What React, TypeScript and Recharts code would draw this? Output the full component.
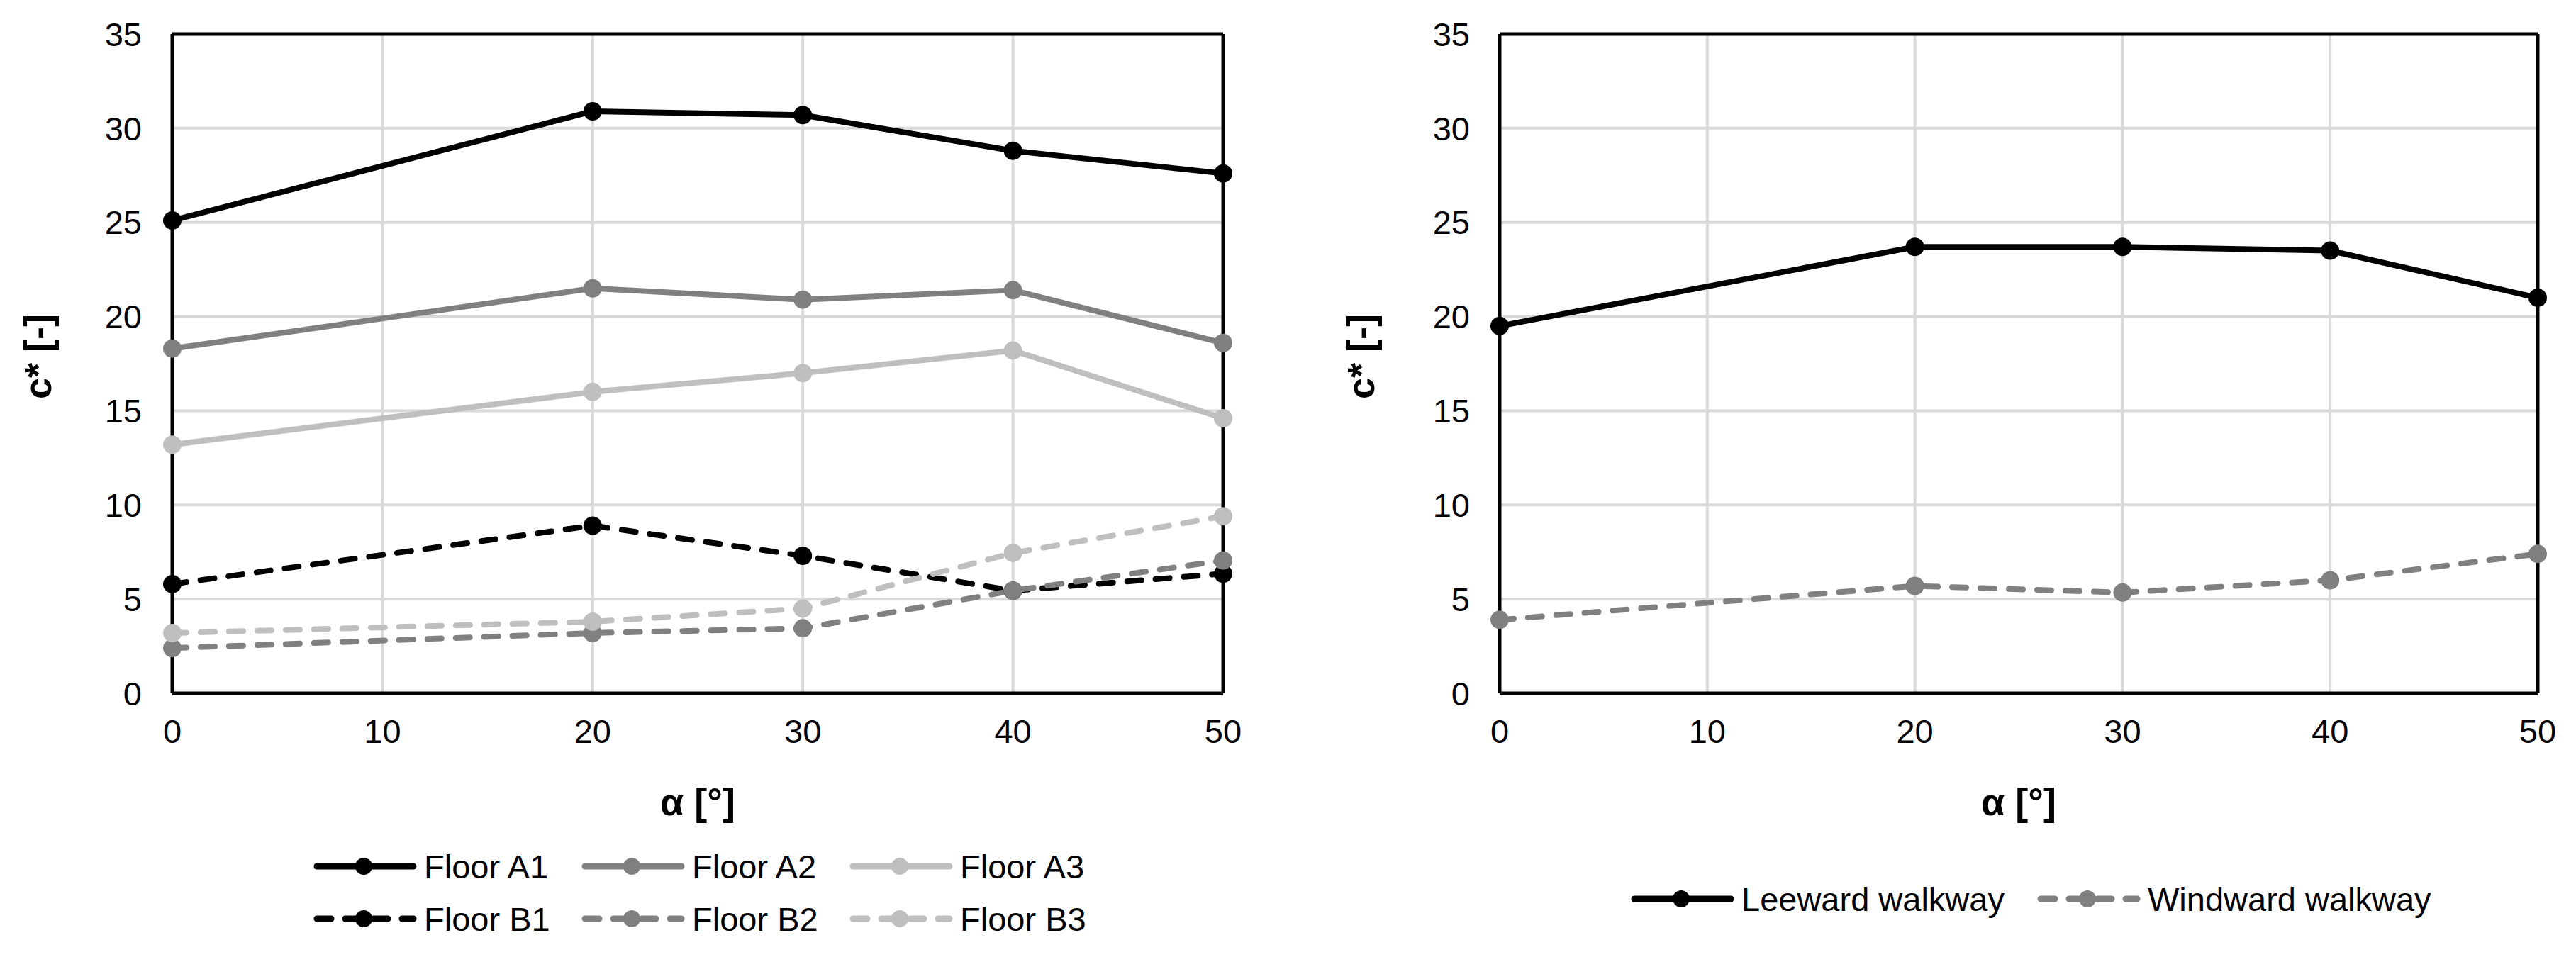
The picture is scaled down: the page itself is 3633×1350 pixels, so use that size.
import React from "react";
import {
  LineChart,
  Line,
  XAxis,
  YAxis,
  CartesianGrid,
  ReferenceLine,
  Legend,
} from "recharts";

// angle of attack [deg] where values were measured
const alphaValues = [0, 20, 30, 40, 50];

// left panel: floors
const floorA1 = [25.1, 30.9, 30.7, 28.8, 27.6];
const floorA2 = [18.3, 21.5, 20.9, 21.4, 18.6];
const floorA3 = [13.2, 16.0, 17.0, 18.2, 14.6];
const floorB1 = [5.8, 8.9, 7.3, 5.45, 6.35];
const floorB2 = [2.4, 3.2, 3.45, 5.45, 7.05];
const floorB3 = [3.2, 3.8, 4.5, 7.45, 9.4];

// right panel: walkways
const leewardWalkway = [19.5, 23.7, 23.7, 23.5, 21.0];
const windwardWalkway = [3.9, 5.7, 5.35, 6.0, 7.4];

const xTicks = [0, 10, 20, 30, 40, 50];
const yTicks = [0, 5, 10, 15, 20, 25, 30, 35];

const BLACK = "#000000";
const DARK = "#808080";
const LIGHT = "#bfbfbf";
const FONT = "'Liberation Sans', Arial, sans-serif";
const DASH = "20 20";

type Series = { key: string; name: string; color: string; dashed: boolean; values: number[] };

const floorSeries: Series[] = [
  { key: "A1", name: "Floor A1", color: BLACK, dashed: false, values: floorA1 },
  { key: "A2", name: "Floor A2", color: DARK, dashed: false, values: floorA2 },
  { key: "A3", name: "Floor A3", color: LIGHT, dashed: false, values: floorA3 },
  { key: "B1", name: "Floor B1", color: BLACK, dashed: true, values: floorB1 },
  { key: "B2", name: "Floor B2", color: DARK, dashed: true, values: floorB2 },
  { key: "B3", name: "Floor B3", color: LIGHT, dashed: true, values: floorB3 },
];

const walkwaySeries: Series[] = [
  { key: "lee", name: "Leeward walkway", color: BLACK, dashed: false, values: leewardWalkway },
  { key: "wind", name: "Windward walkway", color: DARK, dashed: true, values: windwardWalkway },
];

const buildRows = (series: Series[]) =>
  alphaValues.map((alpha, i) => {
    const row: Record<string, number> = { alpha };
    series.forEach((s) => (row[s.key] = s.values[i]));
    return row;
  });

const tickStyle = { fontSize: 47, fill: "#000", fontFamily: FONT };
const axisLineStyle = { stroke: "#000", strokeWidth: 5 };

// legend drawn as svg, columns wrap after `perRow` items
function makeLegend(series: Series[], startX: number, colWidth: number, perRow: number, rowYs: number[], width: number) {
  return () => (
    <svg width={width} height={170}>
      {series.map((s, i) => {
        const x = startX + (i % perRow) * colWidth;
        const y = rowYs[Math.floor(i / perRow)];
        return (
          <g key={s.key}>
            <line
              x1={x + 4}
              y1={y}
              x2={x + 140}
              y2={y}
              stroke={s.color}
              strokeWidth={9}
              strokeLinecap="round"
              strokeDasharray={s.dashed ? DASH : undefined}
            />
            <circle cx={x + 70} cy={y} r={12} fill={s.color} />
            <text x={x + 155} y={y + 17} fontSize={47} fontFamily={FONT} fill="#000">
              {s.name}
            </text>
          </g>
        );
      })}
    </svg>
  );
}

type PanelProps = {
  series: Series[];
  width: number;
  yAxisWidth: number;
  rightMargin: number;
  tickGap: number;
  yTitleX: number;
  legend: () => React.ReactElement;
};

function Panel({ series, width, yAxisWidth, rightMargin, tickGap, yTitleX, legend }: PanelProps) {
  const rows = buildRows(series);
  return (
    <LineChart
      width={width}
      height={1350}
      data={rows}
      margin={{ top: 48, right: rightMargin, bottom: 0, left: 0 }}
    >
      <CartesianGrid stroke="#d9d9d9" strokeWidth={4} />
      <XAxis
        dataKey="alpha"
        type="number"
        domain={[0, 50]}
        ticks={xTicks}
        height={372}
        tickSize={0}
        tickMargin={37}
        tick={tickStyle}
        axisLine={axisLineStyle}
        label={({ viewBox }: any) => (
          <text
            x={viewBox.x + viewBox.width / 2}
            y={viewBox.y + 172}
            textAnchor="middle"
            fontSize={54}
            fontWeight={700}
            fontFamily={FONT}
            fill="#000"
          >
            α [°]
          </text>
        )}
      />
      <YAxis
        type="number"
        domain={[0, 35]}
        ticks={yTicks}
        width={yAxisWidth}
        tickSize={0}
        tickMargin={tickGap}
        tick={tickStyle}
        axisLine={axisLineStyle}
        label={({ viewBox }: any) => {
          const cx = viewBox.x + yTitleX;
          const cy = viewBox.y + viewBox.height / 2 - 10;
          return (
            <text
              x={cx}
              y={cy}
              transform={`rotate(-90, ${cx}, ${cy})`}
              textAnchor="middle"
              fontSize={54}
              fontWeight={700}
              fontFamily={FONT}
              fill="#000"
            >
              c* [-]
            </text>
          );
        }}
      />
      <ReferenceLine y={35} stroke="#000" strokeWidth={5} />
      <ReferenceLine x={50} stroke="#000" strokeWidth={5} />
      {series.map((s) => (
        <Line
          key={s.key}
          dataKey={s.key}
          name={s.name}
          stroke={s.color}
          strokeWidth={8}
          strokeLinejoin="round"
          strokeLinecap="round"
          strokeDasharray={s.dashed ? DASH : undefined}
          dot={{ r: 13, fill: s.color, strokeWidth: 0 }}
          activeDot={false}
          isAnimationActive={false}
        />
      ))}
      <Legend
        layout="horizontal"
        align="center"
        verticalAlign="middle"
        content={legend}
        wrapperStyle={{ position: "absolute", left: 0, top: 1180, width, height: 170 }}
      />
    </LineChart>
  );
}

export default function App() {
  return (
    <div style={{ position: "absolute", left: 0, top: 0, width: 3633, height: 1350, background: "#fff" }}>
      <style>{"body{margin:0;background:#fff}"}</style>
      <div style={{ position: "absolute", left: 0, top: 0 }}>
        <Panel
          series={floorSeries}
          width={1800}
          yAxisWidth={243}
          rightMargin={75}
          tickGap={43}
          yTitleX={72}
          legend={makeLegend(floorSeries, 443, 378, 3, [42, 116], 1800)}
        />
      </div>
      <div style={{ position: "absolute", left: 1800, top: 0 }}>
        <Panel
          series={walkwaySeries}
          width={1833}
          yAxisWidth={315}
          rightMargin={54}
          tickGap={42}
          yTitleX={138}
          legend={makeLegend(walkwaySeries, 501, 573, 2, [88], 1833)}
        />
      </div>
    </div>
  );
}
